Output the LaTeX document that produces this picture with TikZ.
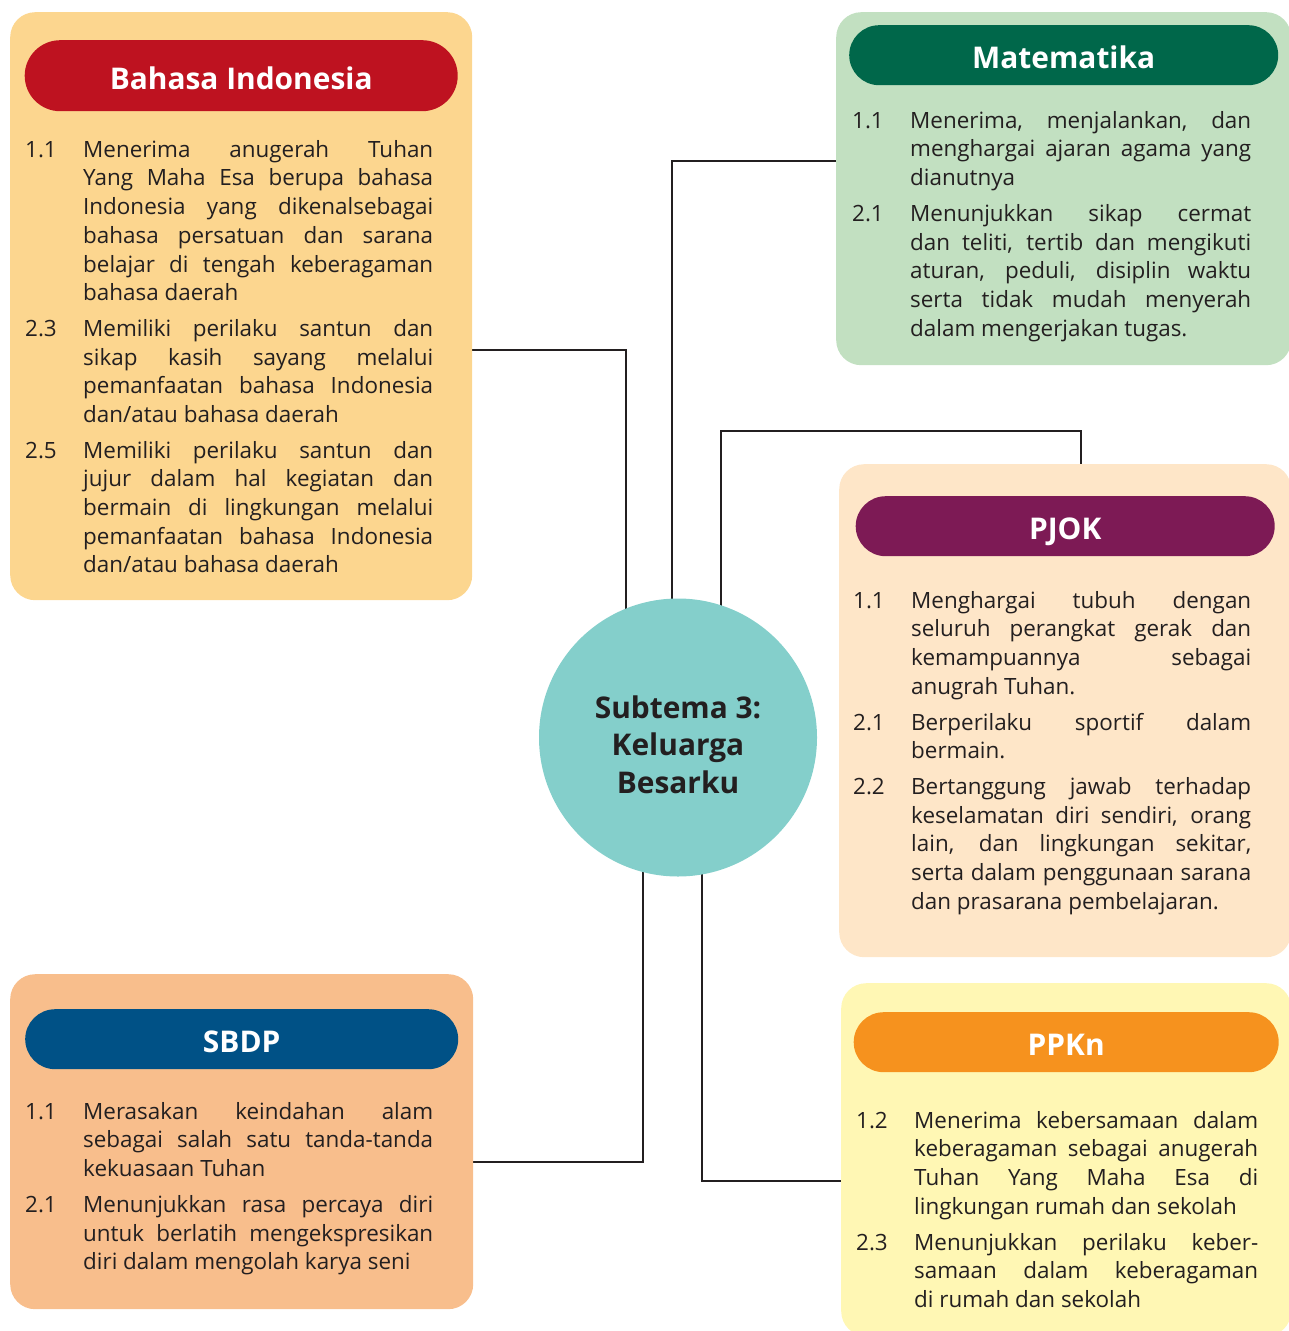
\documentclass[tikz,border=0pt]{standalone}
\usepackage{fontspec}
\setmainfont{Open Sans}
\usetikzlibrary{positioning, backgrounds}
\definecolor{inkdark}{HTML}{231F20}
\definecolor{bindobg}{HTML}{FCD68F}
\definecolor{bindohd}{HTML}{BE1220}
\definecolor{matbg}{HTML}{C2E0C1}
\definecolor{mathd}{HTML}{00674A}
\definecolor{pjokbg}{HTML}{FEE6C8}
\definecolor{pjokhd}{HTML}{7D1A55}
\definecolor{ppknbg}{HTML}{FFF7B4}
\definecolor{ppknhd}{HTML}{F6921E}
\definecolor{sbdpbg}{HTML}{F8BE8C}
\definecolor{sbdphd}{HTML}{005186}
\definecolor{temabg}{HTML}{84CFCB}

% one numbered competence, hanging under its number
\newlength{\kdind}
\setlength{\kdind}{58bp}
\newcommand{\kdsetup}{\setlength{\parskip}{7bp}\tolerance=10000
  \hyphenpenalty=10000 \exhyphenpenalty=10000 }
\newcommand{\kd}[2]{\hangindent=\kdind\hangafter=1
  \noindent\makebox[\kdind][l]{\strut#1}#2\par}

\begin{document}
\begin{tikzpicture}[x=1bp, y=-1bp,
    panel/.style={rounded corners=25bp, fill=#1, inner sep=0pt, anchor=north west},
    head/.style={rounded corners=30bp, fill=#1, text=white, inner sep=0pt,
                 minimum height=60bp, anchor=north, text height=27.5bp, text depth=0pt,
                 font=\bfseries\fontsize{30}{30}\selectfont},
    body/.style={anchor=north west, inner sep=0pt, text width=#1, align=justify,
                 text=inkdark, font=\fontsize{22.5}{28.8}\selectfont},
    link/.style={draw=inkdark, line width=1.8bp}]
  \useasboundingbox (0,0) rectangle (1288,1331);

  % Bahasa Indonesia
  \node[panel=bindobg, minimum width=462bp, minimum height=588bp] (bindo) at (10,12) {};
  \node[head=bindohd, minimum height=71bp, rounded corners=35.5bp, minimum width=433bp,
        below=28bp of bindo.north] (bindoh) {Bahasa Indonesia};
  \node[body=408bp] (bindot) at (25,137) {\kdsetup
    \kd{1.1}{Menerima anugerah Tuhan\linebreak Yang Maha Esa berupa bahasa\linebreak
      Indonesia yang dikenalsebagai\linebreak bahasa persatuan dan sarana\linebreak
      belajar di tengah keberagaman\linebreak bahasa daerah}
    \kd{2.3}{Memiliki perilaku santun dan\linebreak sikap kasih sayang melalui\linebreak
      pemanfaatan bahasa Indonesia\linebreak dan/atau bahasa daerah}
    \kd{2.5}{Memiliki perilaku santun dan\linebreak jujur dalam hal kegiatan dan\linebreak
      bermain di lingkungan melalui\linebreak pemanfaatan bahasa Indonesia\linebreak
      dan/atau bahasa daerah}};

  % Matematika
  \node[panel=matbg, minimum width=455bp, minimum height=353bp] (mat) at (836,12) {};
  \node[head=mathd, minimum width=429bp, below=13bp of mat.north] (math) {Matematika};
  \node[body=399bp] (matt) at (852,108) {\kdsetup
    \kd{1.1}{Menerima, menjalankan, dan\linebreak menghargai ajaran agama yang\linebreak
      dianutnya}
    \kd{2.1}{Menunjukkan sikap cermat\linebreak dan teliti, tertib dan mengikuti\linebreak
      aturan, peduli, disiplin waktu\linebreak serta tidak mudah menyerah\linebreak
      dalam mengerjakan tugas.}};

  % PJOK
  \node[panel=pjokbg, minimum width=452bp, minimum height=493bp] (pjok) at (839,464) {};
  \node[head=pjokhd, minimum width=419bp, below=32bp of pjok.north] (pjokh) {PJOK};
  \node[body=398bp] (pjokt) at (853,588) {\kdsetup
    \kd{1.1}{Menghargai tubuh dengan\linebreak seluruh perangkat gerak dan\linebreak
      kemampuannya sebagai\linebreak anugrah Tuhan.}
    \kd{2.1}{Berperilaku sportif dalam\linebreak bermain.}
    \kd{2.2}{Bertanggung jawab terhadap\linebreak keselamatan diri sendiri, orang\linebreak
      lain, dan lingkungan sekitar,\linebreak serta dalam penggunaan sarana\linebreak
      dan prasarana pembelajaran.}};

  % PPKn
  \node[panel=ppknbg, minimum width=450bp, minimum height=353bp] (ppkn) at (841,983) {};
  \node[head=ppknhd, minimum width=425bp, below=29bp of ppkn.north] (ppknh) {PPKn};
  \node[body=402bp] (ppknt) at (856,1108) {\kdsetup
    \kd{1.2}{Menerima kebersamaan dalam\linebreak keberagaman sebagai anugerah\linebreak
      Tuhan Yang Maha Esa di\linebreak lingkungan rumah dan sekolah}
    \kd{2.3}{Menunjukkan perilaku keber-\linebreak samaan dalam keberagaman\linebreak
      di rumah dan sekolah}};

  % SBDP
  \node[panel=sbdpbg, minimum width=463bp, minimum height=335bp] (sbdp) at (10,974) {};
  \node[head=sbdphd, minimum width=433bp, below=35bp of sbdp.north] (sbdph) {SBDP};
  \node[body=408bp] (sbdpt) at (25,1099) {\kdsetup
    \kd{1.1}{Merasakan keindahan alam\linebreak sebagai salah satu tanda-tanda\linebreak
      kekuasaan Tuhan}
    \kd{2.1}{Menunjukkan rasa percaya diri\linebreak untuk berlatih mengekspresikan\linebreak
      diri dalam mengolah karya seni}};

  % subtema in the middle
  \node[circle, fill=temabg, minimum size=278bp, inner sep=0pt, align=center,
        text=inkdark, font=\bfseries\fontsize{30}{38}\selectfont] (tema) at (678,737.5)
        {\rule{0pt}{37bp}Subtema 3:\\ Keluarga\\ Besarku};

  \begin{scope}[on background layer]
    \draw[link] (bindo.east |- 0,350) -| ([xshift=-52bp]tema.center);
    \draw[link] (mat.west |- 0,161) -| ([xshift=-6bp]tema.center);
    \draw[link] (pjok.north -| 1081,0) |- (721,431) -- ([xshift=43bp]tema.center);
    \draw[link] (ppkn.west |- 0,1181) -| ([xshift=24bp]tema.center);
    \draw[link] (sbdp.east |- 0,1162) -| ([xshift=-35bp]tema.center);
  \end{scope}
\end{tikzpicture}
\end{document}
